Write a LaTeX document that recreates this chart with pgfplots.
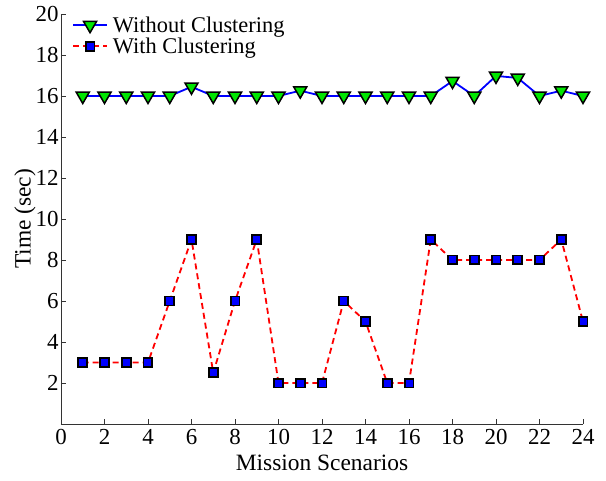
\documentclass[border=0pt]{standalone}
\usepackage{fontspec}
\setmainfont{Liberation Serif}
\usepackage{pgfplots}
\pgfplotsset{compat=1.18}
\begin{document}
\begin{tikzpicture}
\begin{axis}[
  scale only axis,
  width=522bp, height=410bp,
  xmin=0, xmax=24, ymin=0, ymax=20,
  xtick={0,2,...,24}, ytick={2,4,...,20},
  axis lines=left,
  axis line style={-, thick, black!80},
  tick align=inside,
  tick style={black!80, thick},
  major tick length=5bp,
  /pgf/number format/assume math mode=true,
  tick label style={font=\fontsize{23}{24}\selectfont},
  label style={font=\fontsize{23.5}{24}\selectfont},
  xticklabel style={yshift=-2bp},
  yticklabel style={xshift=1bp},
  xlabel={Mission Scenarios},
  ylabel={Time (sec)},
  xlabel style={yshift=-3bp},
  ylabel style={yshift=-7bp},
  legend style={draw=none, fill=none, at={(0.02,1.0)}, anchor=north west,
    font=\fontsize{22.5}{23}\selectfont, row sep=0bp, column sep=3bp, inner sep=0.5bp},
  legend cell align=left,
  legend image code/.code={
    \draw[mark repeat=2,mark phase=2] plot coordinates {(0cm,0cm) (0.6cm,0cm) (1.2cm,0cm)};
  },
  clip=false,
]
\coordinate (o) at (rel axis cs:0,0);
\addplot[blue, line width=1.8bp, mark=triangle*, mark size=7.5bp,
  mark options={rotate=180, fill=green!90!black, draw=black, line width=1.5bp, solid}]
  coordinates {
  (1,16) (2,16) (3,16) (4,16) (5,16) (6,16.45) (7,16) (8,16) (9,16) (10,16)
  (11,16.26) (12,16) (13,16) (14,16) (15,16) (16,16) (17,16) (18,16.73)
  (19,16) (20,16.98) (21,16.88) (22,16) (23,16.26) (24,16)};
\addlegendentry{Without Clustering}
\addplot[red, line width=1.8bp, dash pattern=on 6bp off 4bp, mark=square*, mark size=4.4bp,
  mark options={fill=blue, draw=black, line width=1.8bp, solid}]
  coordinates {
  (1,3) (2,3) (3,3) (4,3) (5,6) (6,9) (7,2.5) (8,6) (9,9) (10,2)
  (11,2) (12,2) (13,6) (14,5) (15,2) (16,2) (17,9) (18,8)
  (19,8) (20,8) (21,8) (22,8) (23,9) (24,5)};
\addlegendentry{With Clustering}
\end{axis}
\path (o) ++(-61bp,-57bp) rectangle ++(606bp,481bp);
\end{tikzpicture}
\end{document}
